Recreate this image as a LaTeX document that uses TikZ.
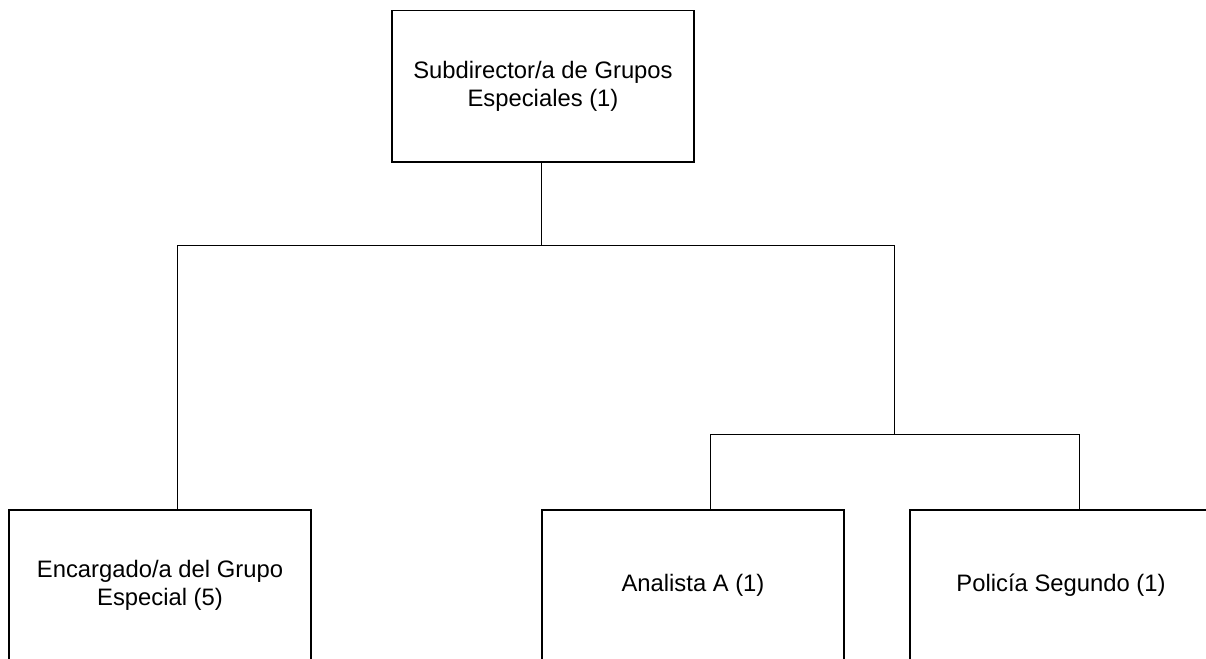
\documentclass[tikz,border=0pt]{standalone}
\usepackage{fontspec}
\setmainfont{Liberation Sans}
\usetikzlibrary{calc}
\begin{document}
\begin{tikzpicture}[x=1pt,y=-1pt,
  orgbox/.style={draw=black,line width=1.6pt,fill=white,minimum width=302pt,minimum height=151pt,
    inner sep=0pt,align=center,font=\fontsize{23.8}{27.4}\selectfont},
  link/.style={draw=black,line width=0.9pt}]
\useasboundingbox (0,0) rectangle (1206,658);
\fill[white] (0,0) rectangle (1206,658);
\clip (0,0) rectangle (1206,658);
\node[orgbox] (top) at (543,86.2) {Subdirector/a de Grupos\\Especiales (1)};
\node[orgbox] (enc) at (160,585.5) {Encargado/a del Grupo\\Especial (5)};
\node[orgbox] (ana) at (693,585.5) {Analista A (1)};
\node[orgbox] (pol) at (1061,585.5) {Policía Segundo (1)};
\coordinate (j1) at (541,245);
\coordinate (jl) at (177,245);
\coordinate (jr) at (894,245);
\coordinate (j2) at (894,434);
\coordinate (j2l) at (710.7,434);
\coordinate (j2r) at (1079,434);
\draw[link] (top.south -| j1) -- (j1);
\draw[link] (enc.north -| jl) -- (jl) -- (jr) -- (j2);
\draw[link] (ana.north -| j2l) -- (j2l) -- (j2r) -- (pol.north -| j2r);
\end{tikzpicture}
\end{document}
